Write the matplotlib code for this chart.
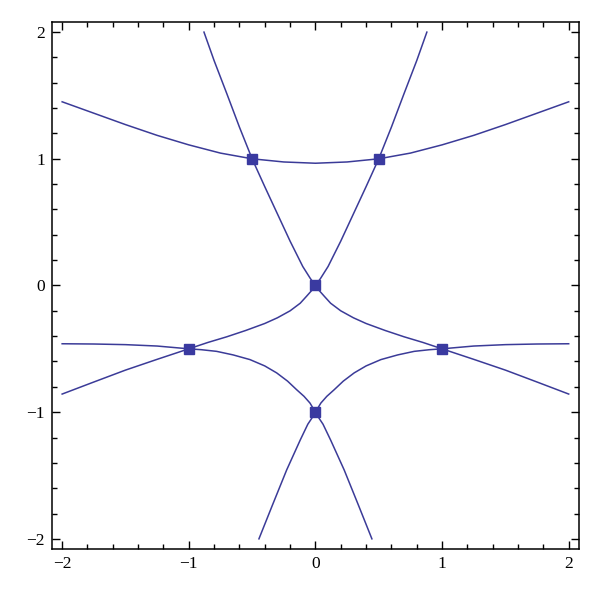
import matplotlib
matplotlib.use("Agg")
import matplotlib.pyplot as plt
from matplotlib.ticker import MultipleLocator

# Kurven
r_x = [-2, -1.75, -1.5, -1.25, -1, -0.75, -0.5, -0.25, 0, 0.25, 0.5, 0.75, 1, 1.25, 1.5, 1.75, 2]
r_y = [1.45, 1.36, 1.27, 1.185, 1.11, 1.045, 1.0, 0.975, 0.965, 0.975, 1.0, 1.045, 1.11, 1.185, 1.27, 1.36, 1.45]

# von oben links ueber (0,0) nach rechts unten
p_x = [-0.88, -0.8, -0.7, -0.6, -0.5, -0.4, -0.3, -0.2, -0.1, -0.04, 0,
       0.03, 0.07, 0.12, 0.2, 0.3, 0.4, 0.55, 0.7, 0.85, 1.0, 1.25, 1.5, 1.75, 2.0]
p_y = [2.0, 1.775, 1.515, 1.25, 1.0, 0.78, 0.565, 0.35, 0.15, 0.055, 0,
       -0.04, -0.085, -0.14, -0.2, -0.255, -0.3, -0.355, -0.405, -0.45, -0.5, -0.583, -0.668, -0.762, -0.857]

q_x = [0.88, 0.8, 0.7, 0.6, 0.5, 0.4, 0.3, 0.2, 0.1, 0.04, 0,
       -0.03, -0.07, -0.12, -0.2, -0.3, -0.4, -0.55, -0.7, -0.85, -1.0, -1.25, -1.5, -1.75, -2.0]
q_y = p_y

# von links ueber (-1,-0.5) und (0,-1) nach rechts unten
sl_x = [-2, -1.75, -1.5, -1.25, -1, -0.9, -0.78, -0.65, -0.517, -0.4, -0.306, -0.22, -0.148, -0.09, -0.043, 0,
        0.03, 0.06, 0.12, 0.227, 0.34, 0.446]
sl_y = [-0.46, -0.462, -0.467, -0.478, -0.5, -0.507, -0.52, -0.548, -0.585, -0.635, -0.69, -0.755, -0.823, -0.875, -0.928, -1.0,
        -1.05, -1.095, -1.22, -1.456, -1.735, -2.0]

sr_x = [2, 1.75, 1.5, 1.25, 1, 0.9, 0.78, 0.65, 0.517, 0.4, 0.306, 0.22, 0.148, 0.09, 0.043, 0,
        -0.03, -0.06, -0.12, -0.227, -0.34, -0.446]
sr_y = sl_y

# Gleichgewichtspunkte
pts_x = [-0.5, 0.5, 0, -1, 1, 0]
pts_y = [1, 1, 0, -0.5, -0.5, -1]

col = "#3b3b98"

fig = plt.figure(figsize=(6.0, 5.99), dpi=100)
ax = fig.add_axes([0.0867, 0.0835, 0.878, 0.8798])

for xs, ys in [(r_x, r_y), (p_x, p_y), (q_x, q_y), (sl_x, sl_y), (sr_x, sr_y)]:
    ax.plot(xs, ys, color=col, lw=1.1, solid_joinstyle="round")
ax.plot(pts_x, pts_y, "s", color="#3a3aa0", ms=7.5, zorder=5)

ax.set_xlim(-2.08, 2.08)
ax.set_ylim(-2.08, 2.08)
ax.xaxis.set_major_locator(MultipleLocator(1))
ax.yaxis.set_major_locator(MultipleLocator(1))
ax.xaxis.set_minor_locator(MultipleLocator(0.2))
ax.yaxis.set_minor_locator(MultipleLocator(0.2))
ax.tick_params(which="both", direction="in", top=True, right=True, width=1, color="black")
ax.tick_params(which="major", length=6, labelsize=12.5, pad=5)
ax.tick_params(which="minor", length=3.5)
for s in ax.spines.values():
    s.set_linewidth(1.1)
for lab in ax.get_xticklabels() + ax.get_yticklabels():
    lab.set_family("Liberation Serif")

fig.savefig("out.png", dpi=100)
plt.close()
